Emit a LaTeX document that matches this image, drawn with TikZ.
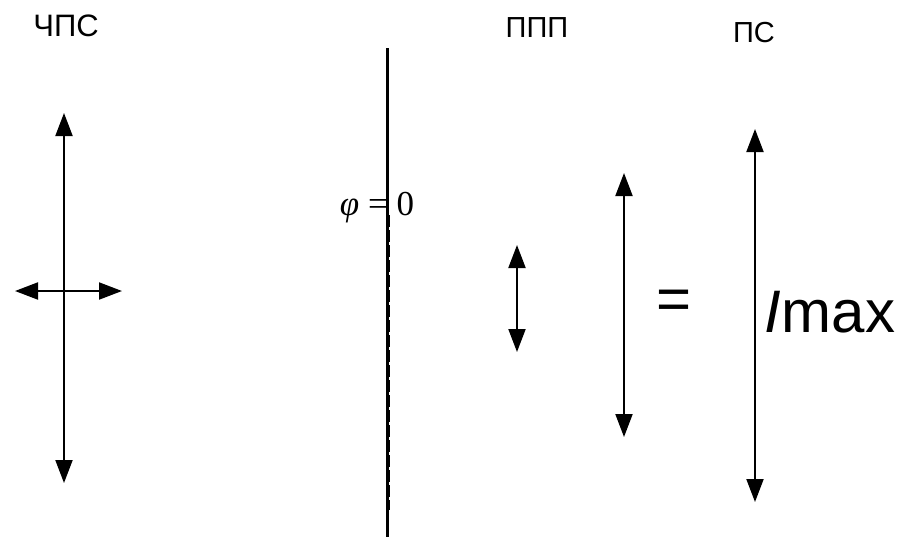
\documentclass[tikz,border=0pt]{standalone}
\usepackage{fontspec}
\setmainfont{Liberation Sans}
\newfontfamily\timesfont{Liberation Serif}
\usetikzlibrary{arrows.meta}

\tikzset{
  vec/.style={line width=2pt, {Triangle[length=23pt,width=17pt]}-{Triangle[length=23pt,width=17pt]}},
  heading/.style={inner sep=0pt, anchor=base, font=\fontsize{29}{34}\selectfont},
  bigtext/.style={inner sep=0pt, font=\fontsize{60}{70}\selectfont}
}

\begin{document}
\begin{tikzpicture}[x=1pt, y=-1pt]
  \useasboundingbox (0,0) rectangle (898,539);

  % Nodes
  \node [heading, font=\fontsize{31}{36}\selectfont] (chps) at (66,36) {ЧПС};
  \node [heading] (ppp) at (537,37) {ППП};
  \node [heading] (ps) at (754,42) {ПС};
  \node [inner sep=0pt, anchor=base, font=\timesfont\fontsize{35}{40}\selectfont] (phi) at (377,215) {\textit{φ} = 0};
  \node [bigtext] (eq) at (674,305) {=};
  \node [bigtext, anchor=base] (imax) at (830,332) {\textit{I}max};

  % Coordinates
  \coordinate (chps top) at (64,113);
  \coordinate (chps bot) at (64,483);
  \coordinate (chps left) at (15,291);
  \coordinate (chps right) at (122,291);
  \coordinate (wall top) at (387,48);
  \coordinate (wall bot) at (387,537);
  \coordinate (dash top) at (389.5,215);
  \coordinate (dash bot) at (389.5,510);
  \coordinate (ppp top) at (517,245);
  \coordinate (ppp bot) at (517,352);
  \coordinate (mid top) at (624,173);
  \coordinate (mid bot) at (624,437);
  \coordinate (ps top) at (755,129);
  \coordinate (ps bot) at (755,502);

  % Edges
  \draw [vec] (chps top) -- (chps bot);
  \draw [vec] (chps left) -- (chps right);
  \draw [line width=3pt] (wall top) -- (wall bot);
  \draw [line width=1.5pt, dash pattern=on 12pt off 3pt] (dash top) -- (dash bot);
  \draw [vec] (ppp top) -- (ppp bot);
  \draw [vec] (mid top) -- (mid bot);
  \draw [vec] (ps top) -- (ps bot);
\end{tikzpicture}
\end{document}
